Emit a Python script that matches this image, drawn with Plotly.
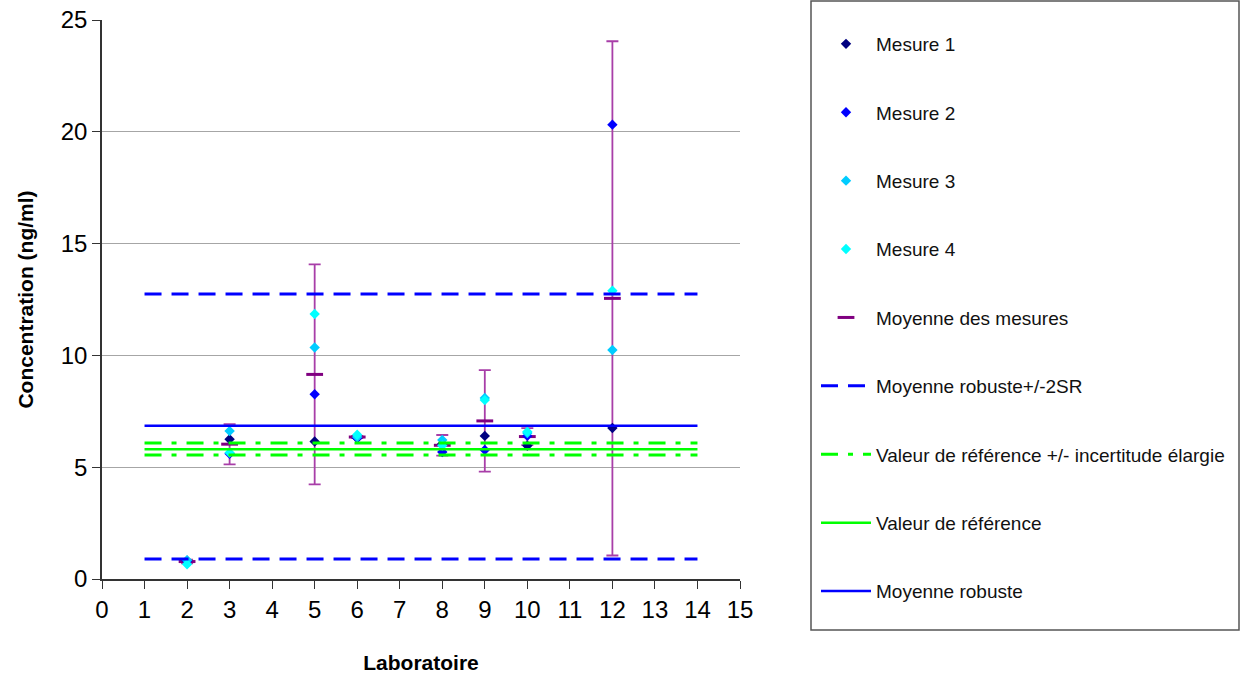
import plotly.graph_objects as go

labs = [2, 3, 5, 6, 8, 9, 10, 12]
mesure1 = [0.82, 6.25, 6.15, 6.30, 6.05, 6.40, 5.96, 6.75]
mesure2 = [0.80, 5.60, 8.26, 6.30, 5.68, 5.77, 6.40, 20.32]
mesure3 = [0.84, 6.62, 10.35, 6.35, 6.22, 8.10, 6.53, 10.24]
mesure4 = [0.66, 5.65, 11.85, 6.45, 5.97, 8.00, 6.59, 12.89]
moyenne = [0.78, 6.03, 9.15, 6.35, 5.98, 7.07, 6.37, 12.55]
incert = [0.08, 0.90, 4.92, 0.05, 0.46, 2.27, 0.38, 11.50]

line_x = [1, 14]
moy_robuste = 6.85
moy_rob_haut = 12.75
moy_rob_bas = 0.89
val_ref = 5.80
val_ref_haut = 6.08
val_ref_bas = 5.55

FONT = "Liberation Sans, Arial, sans-serif"
W, H = 1248, 682

fig = go.Figure()

mes_specs = [
    ("Mesure 1", mesure1, "#000080"),
    ("Mesure 2", mesure2, "#0000FF"),
    ("Mesure 3", mesure3, "#00CCFF"),
    ("Mesure 4", mesure4, "#00FFFF"),
]

fig.add_trace(go.Scatter(
    x=labs, y=moyenne, mode="markers", name="Moyenne des mesures",
    marker=dict(symbol="line-ew", size=12, line=dict(color="#800080", width=3)),
    error_y=dict(type="data", array=incert, visible=True, color="#A83EA8",
                 thickness=1.8, width=6),
    legendgroup="g5", legendrank=5,
))

for i, (name, vals, col) in enumerate(mes_specs):
    fig.add_trace(go.Scatter(
        x=labs, y=vals, mode="markers", name=name,
        marker=dict(symbol="diamond", size=8, color=col),
        legendgroup=f"g{i+1}", legendrank=i + 1,
    ))

fig.add_trace(go.Scatter(
    x=line_x, y=[moy_rob_haut, moy_rob_haut], mode="lines",
    name="Moyenne robuste+/-2SR",
    line=dict(color="#0000FF", width=3, dash="17px,10px"),
    legendgroup="g6", legendrank=6,
))
fig.add_trace(go.Scatter(
    x=line_x, y=[moy_rob_bas, moy_rob_bas], mode="lines",
    name="Moyenne robuste+/-2SR", showlegend=False,
    line=dict(color="#0000FF", width=3, dash="17px,10px"),
    legendgroup="g6",
))
fig.add_trace(go.Scatter(
    x=line_x, y=[val_ref_haut, val_ref_haut], mode="lines",
    name="Valeur de référence +/- incertitude élargie",
    line=dict(color="#00FF00", width=3, dash="17px,10px,5px,10px"),
    legendgroup="g7", legendrank=7,
))
fig.add_trace(go.Scatter(
    x=line_x, y=[val_ref_bas, val_ref_bas], mode="lines",
    name="Valeur de référence +/- incertitude élargie", showlegend=False,
    line=dict(color="#00FF00", width=3, dash="17px,10px,5px,10px"),
    legendgroup="g7",
))
fig.add_trace(go.Scatter(
    x=line_x, y=[val_ref, val_ref], mode="lines",
    name="Valeur de référence",
    line=dict(color="#00FF00", width=2.5),
    legendgroup="g8", legendrank=8,
))
fig.add_trace(go.Scatter(
    x=line_x, y=[moy_robuste, moy_robuste], mode="lines",
    name="Moyenne robuste",
    line=dict(color="#0000FF", width=2.5),
    legendgroup="g9", legendrank=9,
))

fig.update_layout(
    width=W, height=H,
    margin=dict(l=0, r=0, t=0, b=0, autoexpand=False),
    paper_bgcolor="white", plot_bgcolor="white",
    font=dict(family=FONT, color="black"),
    showlegend=True,
    legend=dict(
        x=816 / W, y=1 - 25 / H, xanchor="left", yanchor="top",
        font=dict(size=19, family=FONT, color="#111111"),
        traceorder="grouped", tracegroupgap=40.7,
        itemwidth=50, borderwidth=0, bgcolor="rgba(0,0,0,0)",
    ),
    shapes=[dict(
        type="rect", xref="paper", yref="paper",
        x0=811 / W, x1=1239 / W, y0=1 - 630 / H, y1=1 - 1 / H,
        line=dict(color="#555555", width=1.5), fillcolor="rgba(0,0,0,0)",
    )],
    xaxis=dict(
        domain=[102 / W, 740 / W], automargin=False,
        range=[0, 15], tickmode="linear", tick0=0, dtick=1,
        showgrid=False, zeroline=False,
        showline=True, linecolor="#333333", linewidth=1.5,
        ticks="outside", ticklen=8, tickcolor="#333333",
        tickfont=dict(size=24, family=FONT),
        title=dict(text="<b>Laboratoire</b>", font=dict(size=21, family=FONT), standoff=34),
    ),
    yaxis=dict(
        domain=[1 - 579 / H, 1 - 20 / H], automargin=False,
        range=[0, 25], tickmode="linear", tick0=0, dtick=5,
        showgrid=True, gridcolor="#A6A6A6", gridwidth=1, zeroline=False,
        showline=True, linecolor="#333333", linewidth=1.5,
        ticks="outside", ticklen=8, tickcolor="#333333",
        tickfont=dict(size=24, family=FONT),
        title=dict(text="<b>Concentration (ng/ml)</b>", font=dict(size=21, family=FONT), standoff=21),
    ),
)

fig.write_html("out.html")
